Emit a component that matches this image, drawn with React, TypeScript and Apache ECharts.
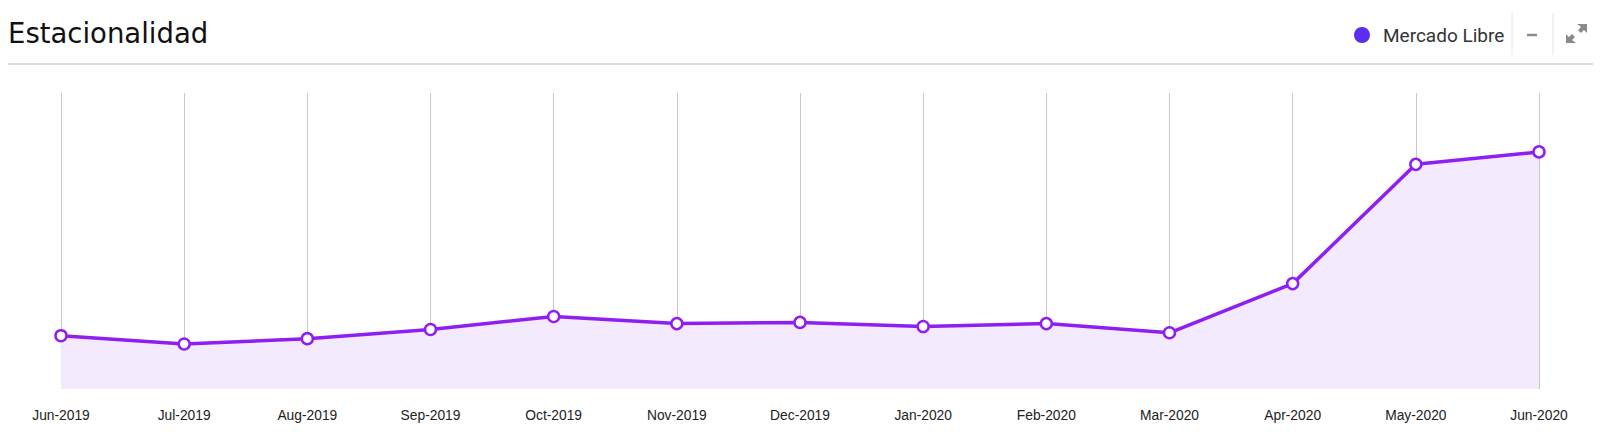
import React, { useEffect, useRef } from "react";
import * as echarts from "echarts";

const categories = [
  "Jun-2019", "Jul-2019", "Aug-2019", "Sep-2019", "Oct-2019", "Nov-2019",
  "Dec-2019", "Jan-2020", "Feb-2020", "Mar-2020", "Apr-2020", "May-2020", "Jun-2020",
];
const mercadoLibre = [18.0, 15.2, 17.0, 20.1, 24.5, 22.1, 22.5, 21.1, 22.1, 19.0, 35.6, 75.9, 80.1];
const seriesName = "Mercado Libre";
const titleText = "Estacionalidad";

export default function App() {
  const ref = useRef<HTMLDivElement>(null);
  useEffect(() => {
    document.body.style.margin = "0";
    const chart = echarts.init(ref.current!, null, { renderer: "svg" });
    chart.setOption({
      animation: false,
      backgroundColor: "#ffffff",
      grid: { left: 61, right: 61, top: 93, bottom: 47 },
      xAxis: {
        type: "category",
        data: categories,
        boundaryGap: false,
        axisLine: { show: false },
        axisTick: { show: false },
        axisLabel: {
          color: "#222",
          fontFamily: "Liberation Sans, Arial, sans-serif",
          fontSize: 13.8,
          margin: 19,
          interval: 0,
        },
        splitLine: { show: true, lineStyle: { color: "#c8c8c8", width: 1 } },
      },
      yAxis: {
        type: "value",
        min: 0,
        max: 100,
        show: false,
        splitLine: { show: false },
      },
      series: [
        {
          name: seriesName,
          type: "line",
          data: mercadoLibre,
          symbol: "circle",
          symbolSize: 11,
          showAllSymbol: true,
          lineStyle: { color: "#8f1ff0", width: 3.5 },
          itemStyle: { color: "#ffffff", borderColor: "#8f1ff0", borderWidth: 2.5 },
          areaStyle: { color: "#f3eafd", opacity: 1 },
        },
      ],
      graphic: [
        {
          type: "text",
          x: 8,
          y: 33,
          style: {
            text: titleText,
            fontFamily: "DejaVu Sans, sans-serif",
            fontSize: 27.5,
            fill: "#111",
            textVerticalAlign: "middle",
          },
        },
        {
          type: "line",
          shape: { x1: 8, y1: 64, x2: 1593, y2: 64 },
          style: { stroke: "#dedede", lineWidth: 2 },
        },
        {
          type: "circle",
          shape: { cx: 1362, cy: 35, r: 8 },
          style: { fill: "#5a2ef2" },
        },
        {
          type: "text",
          x: 1383,
          y: 35,
          style: {
            text: seriesName,
            fontFamily: "Roboto, sans-serif",
            fontSize: 19,
            fill: "#333",
            textVerticalAlign: "middle",
          },
        },
        {
          type: "line",
          shape: { x1: 1512, y1: 13, x2: 1512, y2: 55 },
          style: { stroke: "#e4e4e4", lineWidth: 1 },
        },
        {
          type: "line",
          shape: { x1: 1527, y1: 35, x2: 1537, y2: 35 },
          style: { stroke: "#8a8a8a", lineWidth: 2.5 },
        },
        {
          type: "line",
          shape: { x1: 1553, y1: 13, x2: 1553, y2: 55 },
          style: { stroke: "#e4e4e4", lineWidth: 1 },
        },
        {
          type: "polygon",
          shape: { points: [[1577, 24], [1587, 24], [1587, 33], [1584, 30], [1581, 33], [1578, 30], [1581, 27]] },
          style: { fill: "#8a8a8a" },
        },
        {
          type: "polygon",
          shape: { points: [[1566, 34], [1569, 37], [1572, 34], [1575, 37], [1572, 40], [1576, 43], [1566, 43]] },
          style: { fill: "#8a8a8a" },
        },
      ],
    });
    return () => chart.dispose();
  }, []);
  return <div ref={ref} style={{ width: 1600, height: 436 }} />;
}
